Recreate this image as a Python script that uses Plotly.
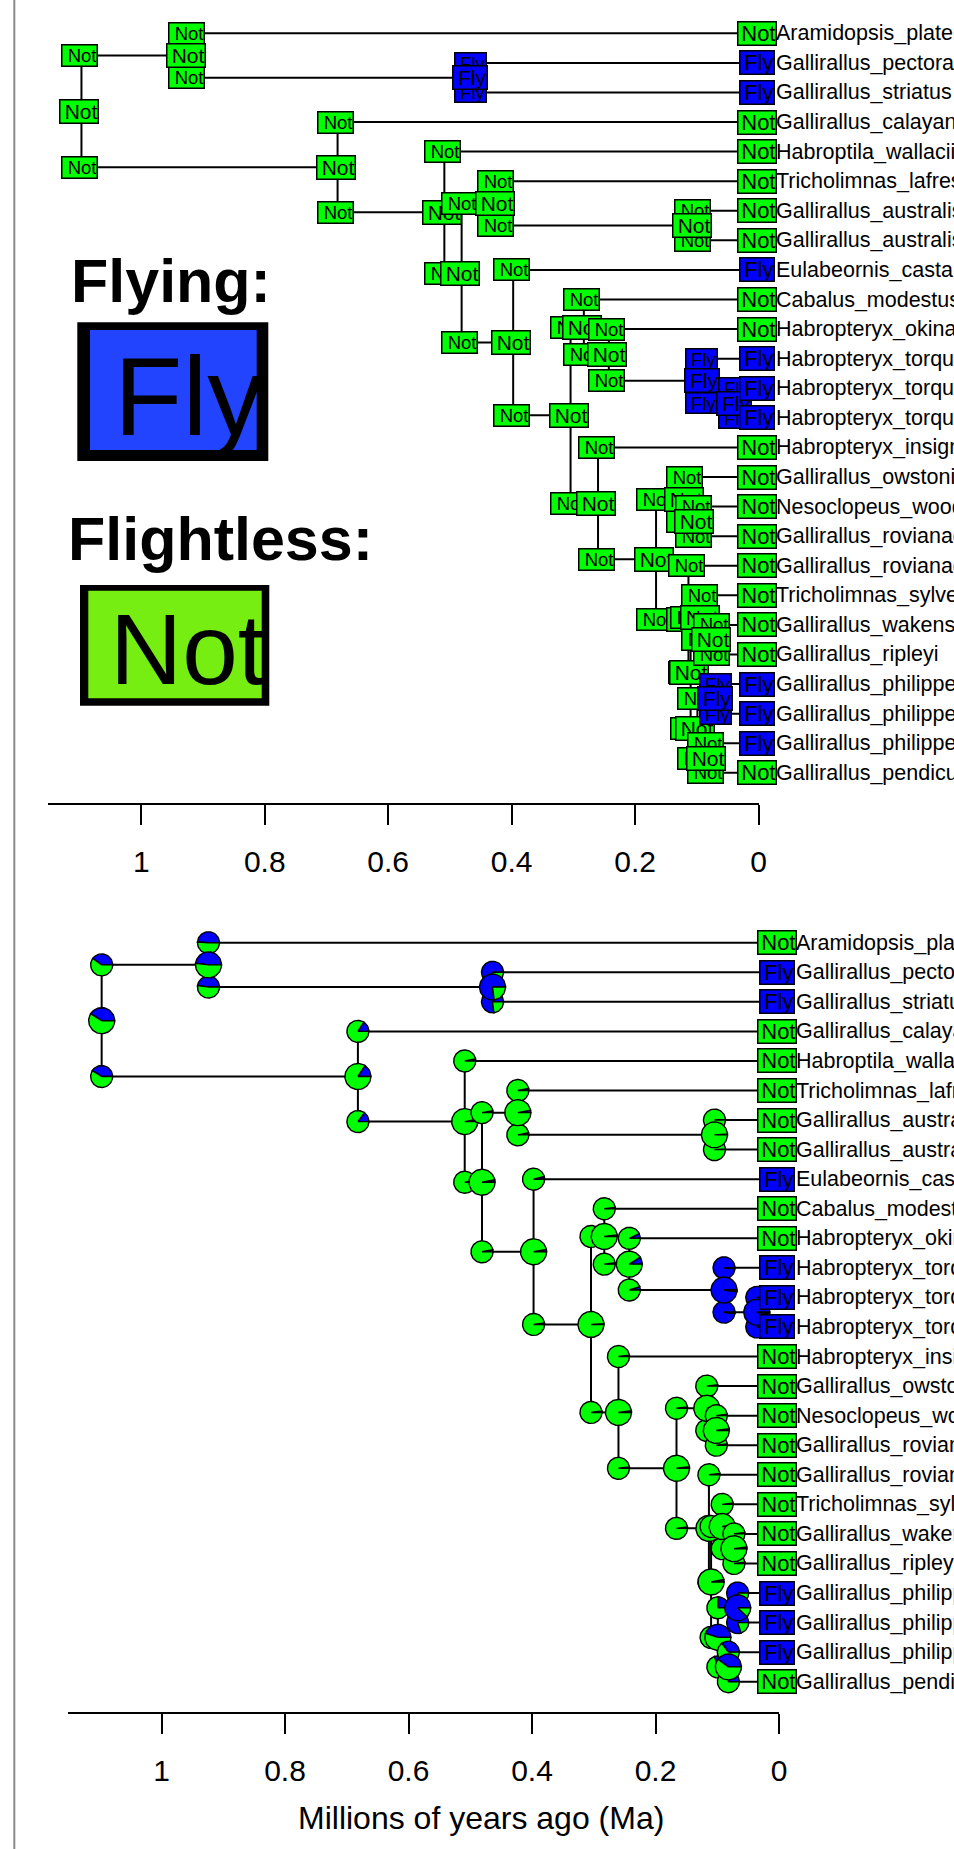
import numpy as np
import plotly.graph_objects as go

FIG_W, FIG_H = 954, 1849
FONT = "Liberation Sans, Arial, Helvetica, sans-serif"
GREEN = "#00FF00"
BLUE = "#0000FF"
LEG_BLUE = "#2244FF"
LEG_GREEN = "#77EE11"

# ---------------- data ----------------
tip_labels = [
    "Aramidopsis_plateni", "Gallirallus_pectoralis", "Gallirallus_striatus",
    "Gallirallus_calayanensis", "Habroptila_wallacii", "Tricholimnas_lafresnayanus",
    "Gallirallus_australis", "Gallirallus_australis", "Eulabeornis_castaneoventris",
    "Cabalus_modestus", "Habropteryx_okinawae", "Habropteryx_torquatus",
    "Habropteryx_torquatus", "Habropteryx_torquatus", "Habropteryx_insignis",
    "Gallirallus_owstoni", "Nesoclopeus_woodfordi", "Gallirallus_rovianae",
    "Gallirallus_rovianae", "Tricholimnas_sylvestris", "Gallirallus_wakensis",
    "Gallirallus_ripleyi", "Gallirallus_philippensis", "Gallirallus_philippensis",
    "Gallirallus_philippensis", "Gallirallus_pendiculentus",
]
tip_states = ["Not", "Fly", "Fly", "Not", "Not", "Not", "Not", "Not", "Fly", "Not",
              "Not", "Fly", "Fly", "Fly", "Not", "Not", "Not", "Not", "Not", "Not",
              "Not", "Not", "Fly", "Fly", "Fly", "Not"]

node_ids = [f"N{i}" for i in range(1, 26)]
node_children = [
    ("N2", "N4"), ("T1", "N3"), ("T2", "T3"), ("T4", "N5"), ("T5", "N6"),
    ("N7", "N9"), ("T6", "N8"), ("T7", "T8"), ("T9", "N10"), ("N11", "N15"),
    ("T10", "N12"), ("T11", "N13"), ("T12", "N14"), ("T13", "T14"), ("T15", "N16"),
    ("N17", "N19"), ("T16", "N18"), ("T17", "T18"), ("T19", "N20"), ("N21", "N23"),
    ("T20", "N22"), ("T21", "T22"), ("N24", "N25"), ("T23", "T24"), ("T25", "T26"),
]
node_ages = [1.097, 0.924, 0.464, 0.682, 0.509, 0.481, 0.423, 0.1045, 0.3975, 0.3045,
             0.283, 0.2425, 0.089, 0.036, 0.260, 0.166, 0.117, 0.1015, 0.1135, 0.110,
             0.092, 0.073, 0.099, 0.067, 0.082]
# probability of "Fly" at each node and at the two branch corners
node_fly = [0.41, 0.48, 0.77, 0.16, 0.03, 0.03, 0.03, 0.01, 0.03, 0.01,
            0.02, 0.09, 0.98, 0.98, 0.02, 0.02, 0.02, 0.02, 0.02, 0.03,
            0.02, 0.02, 0.45, 0.88, 0.40]
corner1_fly = [0.40, 0.49, 0.77, 0.16, 0.03, 0.03, 0.03, 0.01, 0.04, 0.02,
               0.02, 0.07, 0.99, 0.98, 0.02, 0.02, 0.02, 0.02, 0.02, 0.02,
               0.02, 0.02, 0.25, 0.80, 0.35]
corner2_fly = [0.41, 0.48, 0.77, 0.15, 0.03, 0.03, 0.03, 0.01, 0.02, 0.02,
               0.02, 0.05, 0.98, 0.98, 0.02, 0.02, 0.02, 0.02, 0.02, 0.15,
               0.02, 0.02, 0.30, 0.80, 0.25]

age_ticks = [1, 0.8, 0.6, 0.4, 0.2, 0]
age_tick_text = ["1", "0.8", "0.6", "0.4", "0.2", "0"]
x_title = "Millions of years ago (Ma)"

# ---------------- layout constants (px) ----------------
X_MAX_AGE = 1.152
TOP = dict(x_px=(47.5, 758.5), y_px=(0, 803), tip1=33.3, step=29.58, xa="x", ya="y")
BOT = dict(x_px=(67.7, 779.0), y_px=(885, 1712), tip1=942.7, step=29.56, xa="x2", ya="y2")
NAME_SHIFT = 16

# ---------------- tree geometry ----------------
ntip = len(tip_labels)
children_of = dict(zip(node_ids, node_children))
age_of = {f"T{i+1}": 0.0 for i in range(ntip)}
age_of.update(dict(zip(node_ids, node_ages)))
ypos = {f"T{i+1}": float(i + 1) for i in range(ntip)}


def get_y(n):
    if n not in ypos:
        c1, c2 = children_of[n]
        ypos[n] = (get_y(c1) + get_y(c2)) / 2.0
    return ypos[n]


for n in node_ids:
    get_y(n)

bx, by = [], []
for n in node_ids:
    a = age_of[n]
    c1, c2 = children_of[n]
    bx += [a, a, None]
    by += [ypos[c1], ypos[c2], None]
    for c in (c1, c2):
        bx += [a, age_of[c], None]
        by += [ypos[c], ypos[c], None]


def state_of(p):
    return "Fly" if p >= 0.5 else "Not"


fig = go.Figure()
annotations = []

for P in (TOP, BOT):
    fig.add_trace(go.Scatter(x=bx, y=by, mode="lines", xaxis=P["xa"], yaxis=P["ya"],
                             line=dict(color="black", width=2), hoverinfo="skip",
                             showlegend=False))

BOX = {  # kind -> state -> (width, height, font)
    "corner": {"Not": (34, 20, 18.5), "Fly": (30, 19, 18.5)},
    "node": {"Not": (37, 22, 21), "Fly": (33, 22, 21)},
    "tip": {"Not": (37, 22, 22), "Fly": (33, 22, 22)},
}


def box_ann(x, y, state, kind, P):
    w, h, fs = BOX[kind][state]
    return dict(x=x, y=y, xref=P["xa"], yref=P["ya"], text=state, showarrow=False,
                font=dict(family=FONT, size=fs, color="black"),
                bgcolor=GREEN if state == "Not" else BLUE, bordercolor="black",
                borderwidth=1.5, borderpad=0, width=w, height=h, align="right",
                xanchor="center", yanchor="middle", xshift=-2)


for i, n in enumerate(node_ids):
    a = age_of[n]
    c1, c2 = children_of[n]
    annotations.append(box_ann(a, ypos[c1], state_of(corner1_fly[i]), "corner", TOP))
    annotations.append(box_ann(a, ypos[c2], state_of(corner2_fly[i]), "corner", TOP))
    annotations.append(box_ann(a, ypos[n], state_of(node_fly[i]), "node", TOP))

for P in (TOP, BOT):
    name_w = FIG_W - (P["x_px"][1] + NAME_SHIFT) - 1  # room left before the page edge
    for i in range(ntip):
        annotations.append(box_ann(0.0, ypos[f"T{i+1}"], tip_states[i], "tip", P))
        annotations.append(dict(x=0.0, y=ypos[f"T{i+1}"], xref=P["xa"], yref=P["ya"],
                                text=tip_labels[i], showarrow=False, xanchor="left",
                                yanchor="middle", xshift=NAME_SHIFT, width=name_w,
                                height=26, align="left", borderpad=0,
                                font=dict(family=FONT, size=21.5, color="black")))

# ---------- bottom panel: pies ----------
sx = (BOT["x_px"][1] - BOT["x_px"][0]) / X_MAX_AGE
sy = BOT["step"]


def add_pie(age, yy, p, r):
    for a0, a1, col in ((0.0, p, BLUE), (p, 1.0, GREEN)):
        if a1 - a0 <= 1e-9:
            continue
        nseg = max(4, int(72 * (a1 - a0)))
        th = np.linspace(2 * np.pi * a0, 2 * np.pi * a1, nseg + 1)
        px = list(age - r / sx * np.cos(th))
        py = list(yy - r / sy * np.sin(th))
        if a1 - a0 < 1.0:
            px = [age] + px + [age]
            py = [yy] + py + [yy]
        fig.add_trace(go.Scatter(x=px, y=py, mode="lines", fill="toself", fillcolor=col,
                                 line=dict(color="black", width=1.4), xaxis="x2",
                                 yaxis="y2", hoverinfo="skip", showlegend=False))


for i, n in enumerate(node_ids):
    a = age_of[n]
    c1, c2 = children_of[n]
    add_pie(a, ypos[c1], corner1_fly[i], 11)
    add_pie(a, ypos[c2], corner2_fly[i], 11)
    add_pie(a, ypos[n], node_fly[i], 13)

# ---------- legend ----------
def pxx(v):
    return v / FIG_W


def pxy(v):
    return 1 - v / FIG_H


shapes = [
    dict(type="line", xref="paper", yref="paper", x0=pxx(14.3), x1=pxx(14.3), y0=0, y1=1,
         line=dict(color="#8a8a8a", width=2)),
    dict(type="rect", xref="paper", yref="paper", x0=pxx(77.3), x1=pxx(268.3),
         y0=pxy(461), y1=pxy(322.3), fillcolor="black", line=dict(width=0)),
    dict(type="rect", xref="paper", yref="paper", x0=pxx(90), x1=pxx(256.7),
         y0=pxy(450), y1=pxy(330), fillcolor=LEG_BLUE, line=dict(width=0)),
    dict(type="rect", xref="paper", yref="paper", x0=pxx(80), x1=pxx(269.3),
         y0=pxy(705.7), y1=pxy(585), fillcolor="black", line=dict(width=0)),
    dict(type="rect", xref="paper", yref="paper", x0=pxx(88.3), x1=pxx(261.7),
         y0=pxy(698.3), y1=pxy(590.7), fillcolor=LEG_GREEN, line=dict(width=0)),
]

annotations += [
    dict(x=pxx(69), y=pxy(281.5), xref="paper", yref="paper", text="<b>Flying:</b>",
         showarrow=False, xanchor="left", yanchor="middle",
         font=dict(family=FONT, size=61, color="black")),
    dict(x=pxx(65.5), y=pxy(539.2), xref="paper", yref="paper", text="<b>Flightless:</b>",
         showarrow=False, xanchor="left", yanchor="middle",
         font=dict(family=FONT, size=61, color="black")),
    dict(x=pxx(111.5), y=pxy(396.7), xref="paper", yref="paper", text="Fly",
         showarrow=False, xanchor="left", yanchor="middle",
         font=dict(family=FONT, size=112, color="black")),
    dict(x=pxx(107.5), y=pxy(649.2), xref="paper", yref="paper", text="Not",
         showarrow=False, xanchor="left", yanchor="middle",
         font=dict(family=FONT, size=100, color="black")),
    dict(x=pxx(481), y=pxy(1818), xref="paper", yref="paper", text=x_title,
         showarrow=False, xanchor="center", yanchor="middle",
         font=dict(family=FONT, size=32, color="black")),
]

# ---------- axes ----------
def xaxis_cfg(P):
    return dict(domain=[P["x_px"][0] / FIG_W, P["x_px"][1] / FIG_W],
                range=[X_MAX_AGE, 0], anchor=P["ya"], showgrid=False, zeroline=False,
                showline=True, linecolor="black", linewidth=2, ticks="outside",
                ticklen=20, tickwidth=2, tickcolor="black", tickvals=age_ticks,
                ticktext=age_tick_text, ticklabelstandoff=11, automargin=False,
                tickfont=dict(family=FONT, size=30, color="black"), fixedrange=True)


def yaxis_cfg(P):
    lo, hi = P["y_px"]
    return dict(domain=[1 - hi / FIG_H, 1 - lo / FIG_H],
                range=[1 + (hi - P["tip1"]) / P["step"], 1 + (lo - P["tip1"]) / P["step"]],
                anchor=P["xa"], visible=False, showgrid=False, zeroline=False,
                automargin=False, fixedrange=True)


fig.update_layout(
    template="none",
    width=FIG_W, height=FIG_H, autosize=False,
    margin=dict(l=0, r=0, t=0, b=0, pad=0, autoexpand=False),
    paper_bgcolor="white", plot_bgcolor="white", showlegend=False, hovermode=False,
    xaxis=xaxis_cfg(TOP), yaxis=yaxis_cfg(TOP),
    xaxis2=xaxis_cfg(BOT), yaxis2=yaxis_cfg(BOT),
    annotations=annotations, shapes=shapes,
)

fig.write_html("out.html", config={"displayModeBar": False},
               post_script="document.body.style.margin='0px';"
                           "document.body.style.overflow='hidden';")
